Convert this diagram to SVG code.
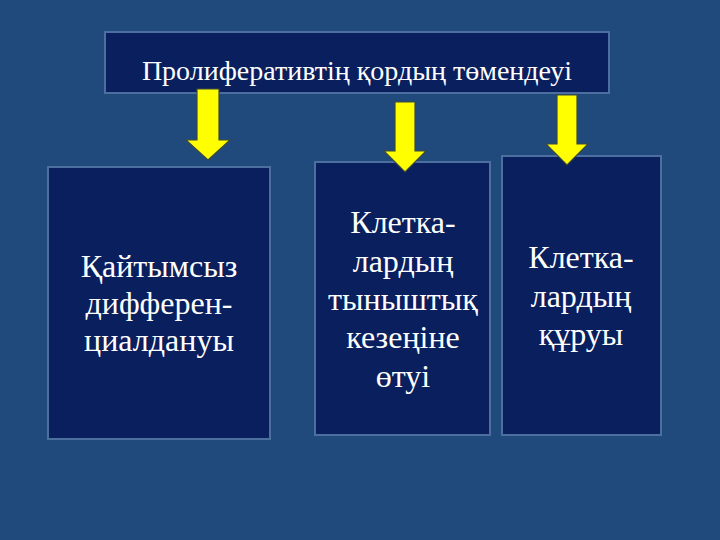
<svg xmlns="http://www.w3.org/2000/svg" width="720" height="540" viewBox="0 0 720 540">
<style>
.box{fill:#0a1f5e;stroke:#4d6f9f;stroke-width:2}
.t{fill:#ffffff;text-anchor:middle}
.arr{fill:#ffff00;stroke:#3d4a3a;stroke-width:1.2;stroke-linejoin:miter}
</style>
<rect width="720" height="540" fill="#214a7c"/>
<g id="top">
<rect class="box" x="105" y="32" width="504" height="61"/>
<text class="t" x="357" y="80" font-size="28" font-family="'Liberation Serif', serif">Пролиферативтің қордың төмендеуі</text>
</g>
<g id="box1">
<rect class="box" x="48" y="167" width="222" height="272"/>
<text class="t" font-size="32" font-family="'Liberation Serif', serif"><tspan x="159" y="277">Қайтымсыз</tspan><tspan x="159" y="314">дифферен-</tspan><tspan x="159" y="351">циалдануы</tspan></text>
</g>
<g id="box2">
<rect class="box" x="315" y="162" width="175" height="273"/>
<text class="t" font-size="32" font-family="'Liberation Serif', serif"><tspan x="403" y="233">Клетка-</tspan><tspan x="403" y="272">лардың</tspan><tspan x="403" y="310">тыныштық</tspan><tspan x="403" y="348">кезеңіне</tspan><tspan x="403" y="387">өтуі</tspan></text>
</g>
<g id="box3">
<rect class="box" x="502" y="156" width="159" height="279"/>
<text class="t" font-size="32" font-family="'Liberation Serif', serif"><tspan x="581" y="268">Клетка-</tspan><tspan x="581" y="307">лардың</tspan><tspan x="581" y="345">құруы</tspan></text>
</g>
<g id="connectors">
<path class="arr" d="M197,89 H219 V140 H230 L208,160 L186,140 H197 Z"/>
<path class="arr" d="M395,102 H415 V151 H426 L405,172 L384,151 H395 Z"/>
<path class="arr" d="M557,95 H577 V144 H588 L567,165 L546,144 H557 Z"/>
</g>
</svg>
